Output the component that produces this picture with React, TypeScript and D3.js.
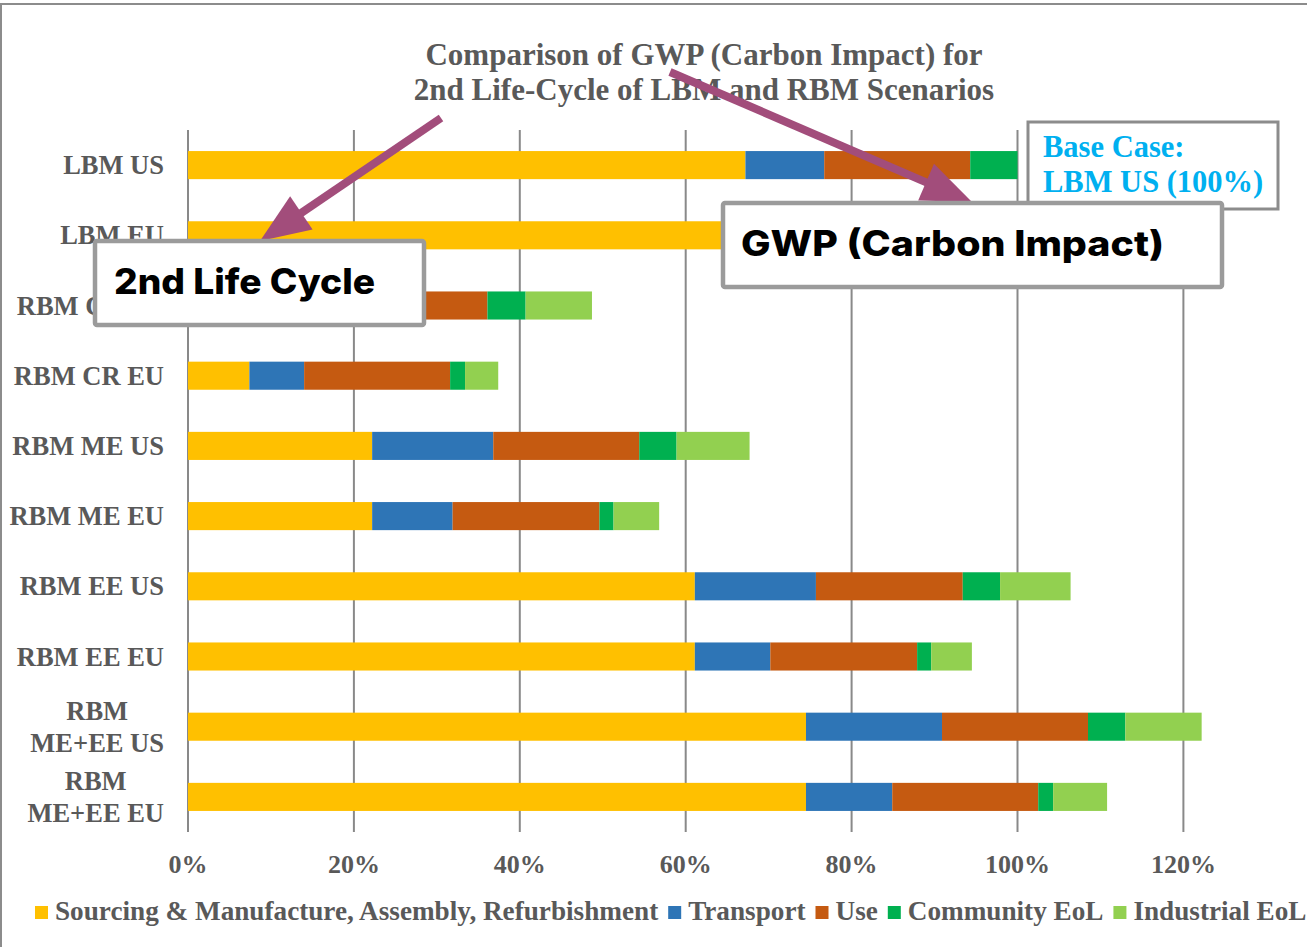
import React, { useEffect, useRef } from 'react';
import * as d3 from 'd3';

// scenarios, top to bottom (wrapped labels split on "|")
const scenarios = ['LBM US', 'LBM EU', 'RBM CR US', 'RBM CR EU', 'RBM ME US', 'RBM ME EU', 'RBM EE US', 'RBM EE EU', 'RBM|ME+EE US', 'RBM|ME+EE EU'];

// GWP share in % of base case (LBM US)
const sourcing = [67.2, 67.2, 7.4, 7.4, 22.2, 22.2, 61.1, 61.1, 74.5, 74.5];
const transport = [9.5, 6.1, 11.1, 6.6, 14.6, 9.7, 14.6, 9.1, 16.4, 10.4];
const use = [17.6, 17.6, 17.6, 17.6, 17.6, 17.7, 17.7, 17.7, 17.6, 17.6];
const communityEoL = [5.7, 1.8, 4.6, 1.8, 4.5, 1.7, 4.5, 1.7, 4.5, 1.8];
const industrialEoL = [0, 0, 8.0, 4.0, 8.8, 5.5, 8.5, 4.9, 9.2, 6.5];

const seriesNames = ['Sourcing & Manufacture, Assembly, Refurbishment', 'Transport', 'Use', 'Community EoL', 'Industrial EoL'];
const seriesColors = ['#FFC000', '#2E75B6', '#C55A11', '#00B050', '#92D050'];
const xTicks = [0, 20, 40, 60, 80, 100, 120];

const titleLines = ['Comparison of GWP (Carbon Impact) for', '2nd Life-Cycle of LBM and RBM Scenarios'];

const W = 1307;
const H = 947;
const serif = '"Liberation Serif", "Times New Roman", serif';
const sans = 'Inter, "Open Sans", sans-serif';
const grey = '#595959';
const purple = '#A24D7B';

export default function App() {
  const svgRef = useRef<SVGSVGElement>(null);

  useEffect(() => {
    if (!svgRef.current) return;
    const svg = d3.select(svgRef.current);
    svg.selectAll('*').remove();

    const margin = { top: 130, left: 188, right: 125, bottom: 115 };

    const rows = scenarios.map((s, i) => ({
      name: s,
      sourcing: sourcing[i],
      transport: transport[i],
      use: use[i],
      community: communityEoL[i],
      industrial: industrialEoL[i],
    }));
    const keys = ['sourcing', 'transport', 'use', 'community', 'industrial'];

    const x = d3.scaleLinear().domain([0, 120]).range([margin.left, margin.left + 829.5 * 1.2]);
    const y = d3.scaleBand<string>()
      .domain(scenarios)
      .range([margin.top, H - margin.bottom])
      .paddingInner(0.6)
      .paddingOuter(0.3);

    // outer frame
    svg.append('rect')
      .attr('x', 1).attr('y', 4)
      .attr('width', W + 20).attr('height', H + 20)
      .attr('fill', '#fff')
      .attr('stroke', '#8c8c8c')
      .attr('stroke-width', 2);

    // title
    svg.append('g')
      .selectAll('text')
      .data(titleLines)
      .join('text')
      .attr('x', 704)
      .attr('y', (_, i) => 65 + i * 35)
      .attr('text-anchor', 'middle')
      .attr('font-family', serif)
      .attr('font-weight', 'bold')
      .attr('font-size', 31)
      .attr('fill', grey)
      .text(d => d);

    // gridlines
    svg.append('g')
      .selectAll('line')
      .data(xTicks)
      .join('line')
      .attr('x1', d => x(d)).attr('x2', d => x(d))
      .attr('y1', y.range()[0]).attr('y2', y.range()[1])
      .attr('stroke', '#898989')
      .attr('stroke-width', 2);

    // stacked bars
    const stacked = d3.stack<any>().keys(keys)(rows);
    svg.append('g')
      .selectAll('g')
      .data(stacked)
      .join('g')
      .attr('fill', (_, i) => seriesColors[i])
      .selectAll('rect')
      .data(d => d)
      .join('rect')
      .attr('x', d => x(d[0]))
      .attr('y', d => y(d.data.name)!)
      .attr('width', d => Math.max(0, x(d[1]) - x(d[0])))
      .attr('height', y.bandwidth());

    // x tick labels
    svg.append('g')
      .selectAll('text')
      .data(xTicks)
      .join('text')
      .attr('x', d => x(d))
      .attr('y', 873)
      .attr('text-anchor', 'middle')
      .attr('font-family', serif)
      .attr('font-weight', 'bold')
      .attr('font-size', 26)
      .attr('fill', grey)
      .text(d => `${d}%`);

    // category labels
    const labelRight = 164;
    const capH = 18;
    const lh = 32;
    scenarios.forEach(s => {
      const lines = s.split('|');
      const cy = y(s)! + y.bandwidth() / 2;
      const b1 = cy - ((lines.length - 1) * lh - capH) / 2;
      const g = svg.append('g');
      const texts = lines.map((ln, i) => g.append('text')
        .attr('y', b1 + i * lh)
        .attr('font-family', serif)
        .attr('font-weight', 'bold')
        .attr('font-size', 26.5)
        .attr('fill', grey)
        .text(ln));
      if (lines.length === 1) {
        texts[0].attr('x', labelRight).attr('text-anchor', 'end');
      } else {
        const maxW = d3.max(texts, t => (t.node() as SVGTextElement).getComputedTextLength()) || 0;
        texts.forEach(t => t.attr('x', labelRight - maxW / 2).attr('text-anchor', 'middle'));
      }
    });

    // legend
    let lx = 35;
    const legend = svg.append('g');
    seriesNames.forEach((name, i) => {
      legend.append('rect')
        .attr('x', lx).attr('y', 906)
        .attr('width', 13).attr('height', 13)
        .attr('fill', seriesColors[i]);
      const t = legend.append('text')
        .attr('x', lx + 20)
        .attr('y', 920)
        .attr('font-family', serif)
        .attr('font-weight', 'bold')
        .attr('font-size', 27.2)
        .attr('fill', grey)
        .text(name);
      lx += 20 + (t.node() as SVGTextElement).getComputedTextLength() + 10;
    });

    // base case note
    const base = svg.append('g');
    base.append('rect')
      .attr('x', 1028).attr('y', 122)
      .attr('width', 250).attr('height', 87)
      .attr('fill', '#fff')
      .attr('stroke', '#8c8c8c')
      .attr('stroke-width', 3);
    base.selectAll('text')
      .data(['Base Case:', 'LBM US (100%)'])
      .join('text')
      .attr('x', 1043)
      .attr('y', (_, i) => 157 + i * 35)
      .attr('font-family', serif)
      .attr('font-weight', 'bold')
      .attr('font-size', 30.5)
      .attr('fill', '#00B0F0')
      .text(d => d);

    // arrows
    const arrow = (x1: number, y1: number, x2: number, y2: number) => {
      const ang = Math.atan2(y2 - y1, x2 - x1);
      const len = 50;
      const hw = 20;
      const bx = x2 - len * Math.cos(ang);
      const by = y2 - len * Math.sin(ang);
      const px = -Math.sin(ang);
      const py = Math.cos(ang);
      const g = svg.append('g');
      g.append('line')
        .attr('x1', x1).attr('y1', y1)
        .attr('x2', bx + 4 * Math.cos(ang)).attr('y2', by + 4 * Math.sin(ang))
        .attr('stroke', purple)
        .attr('stroke-width', 8);
      g.append('polygon')
        .attr('points', [[x2, y2], [bx + px * hw, by + py * hw], [bx - px * hw, by - py * hw]].map(p => p.join(',')).join(' '))
        .attr('fill', purple);
    };
    arrow(441, 118, 260, 241);
    arrow(670, 72, 972, 202);

    // callout boxes
    const callout = (bx: number, by: number, bw: number, bh: number, label: string, tx: number, ty: number, tw: number) => {
      const g = svg.append('g');
      g.append('rect')
        .attr('x', bx).attr('y', by)
        .attr('width', bw).attr('height', bh)
        .attr('rx', 2)
        .attr('fill', '#fff')
        .attr('stroke', '#9b9b9b')
        .attr('stroke-width', 4.5);
      g.append('text')
        .attr('x', tx).attr('y', ty)
        .attr('font-family', sans)
        .attr('font-weight', 800)
        .attr('font-size', 35)
        .attr('textLength', tw)
        .attr('lengthAdjust', 'spacingAndGlyphs')
        .attr('fill', '#000')
        .text(label);
    };
    callout(95, 241, 329, 84, '2nd Life Cycle', 114, 294, 261);
    callout(723, 203, 499, 84, 'GWP (Carbon Impact)', 741, 256, 423);
  }, []);

  return (
    <svg
      ref={svgRef}
      width={W}
      height={H}
      style={{ position: 'absolute', left: 0, top: 0, background: '#fff' }}
    />
  );
}
